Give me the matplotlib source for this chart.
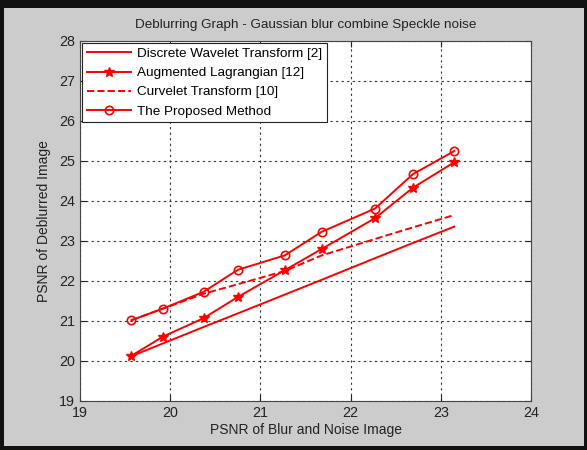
import matplotlib
matplotlib.use("Agg")
import matplotlib.pyplot as plt
from matplotlib.patches import Rectangle

plt.rcParams['font.family'] = ['Liberation Sans', 'DejaVu Sans']

# PSNR of the blurred + noisy input images
blur_psnr = [19.57, 19.92, 20.37, 20.75, 21.27, 21.68, 22.27, 22.69, 23.15]

# PSNR after deblurring, per method
dwt = [20.12, 20.44, 20.85, 21.19, 21.66, 22.03, 22.57, 22.95, 23.36]
augmented = [20.13, 20.61, 21.07, 21.60, 22.27, 22.80, 23.57, 24.33, 24.97]
curvelet = [21.02, 21.31, 21.68, 21.92, 22.25, 22.64, 23.05, 23.34, 23.65]
proposed = [21.02, 21.31, 21.73, 22.28, 22.64, 23.23, 23.81, 24.67, 25.25]

labels = ['Discrete Wavelet Transform [2]', 'Augmented Lagrangian [12]',
          'Curvelet Transform [10]', 'The Proposed Method']

x_ticks = [19, 20, 21, 22, 23, 24]
y_ticks = [19, 20, 21, 22, 23, 24, 25, 26, 27, 28]


def main():
    fig = plt.figure(figsize=(5.87, 4.5), dpi=100)
    fig.patch.set_facecolor('#cccccc')
    ax = fig.add_axes([0.1363, 0.1089, 0.7683, 0.80])

    red = '#ff0000'
    ax.plot(blur_psnr, dwt, '-', color=red, lw=1.4, label=labels[0])
    ax.plot(blur_psnr, augmented, '-*', color=red, lw=1.4, ms=7,
            label=labels[1])
    ax.plot(blur_psnr, curvelet, '--', color=red, lw=1.4, label=labels[2])
    ax.plot(blur_psnr, proposed, '-o', color=red, lw=1.4, ms=6,
            mfc='none', mew=1.2, label=labels[3])

    ax.set_xlim(19, 24)
    ax.set_ylim(19, 28)
    ax.set_xticks(x_ticks)
    ax.set_yticks(y_ticks)
    ax.grid(True, linestyle=(0, (2, 3)), color='#333333', lw=0.8)
    ax.tick_params(direction='in', top=True, right=True, labelsize=10.3,
                   colors='#222222', length=4)
    for s in ax.spines.values():
        s.set_color('#444444')

    ax.set_title('Deblurring Graph - Gaussian blur combine Speckle noise',
                 fontsize=9.7, color='#222222', pad=9)
    ax.set_xlabel('PSNR of Blur and Noise Image', fontsize=10,
                  color='#222222', labelpad=2)
    ax.set_ylabel('PSNR of Deblurred Image', fontsize=10,
                  color='#222222', labelpad=6)

    leg = ax.legend(loc='upper left', fontsize=9.7, handlelength=3.3,
                    borderaxespad=0.15, fancybox=False, framealpha=1,
                    edgecolor='#222222', labelspacing=0.5,
                    borderpad=0.35, handletextpad=0.45)
    leg.get_frame().set_linewidth(0.8)

    # dark window frame round the whole figure (thicker on top)
    frame = [(0, 0, 0.007, 1), (0.995, 0, 0.005, 1),
             (0, 0, 1, 0.009), (0, 0.982, 1, 0.018)]
    for x0, y0, w, h in frame:
        fig.patches.append(Rectangle((x0, y0), w, h,
                                     transform=fig.transFigure,
                                     color='#111111', lw=0))

    fig.savefig('out.png', dpi=100, facecolor=fig.get_facecolor())


if __name__ == "__main__":
    main()
